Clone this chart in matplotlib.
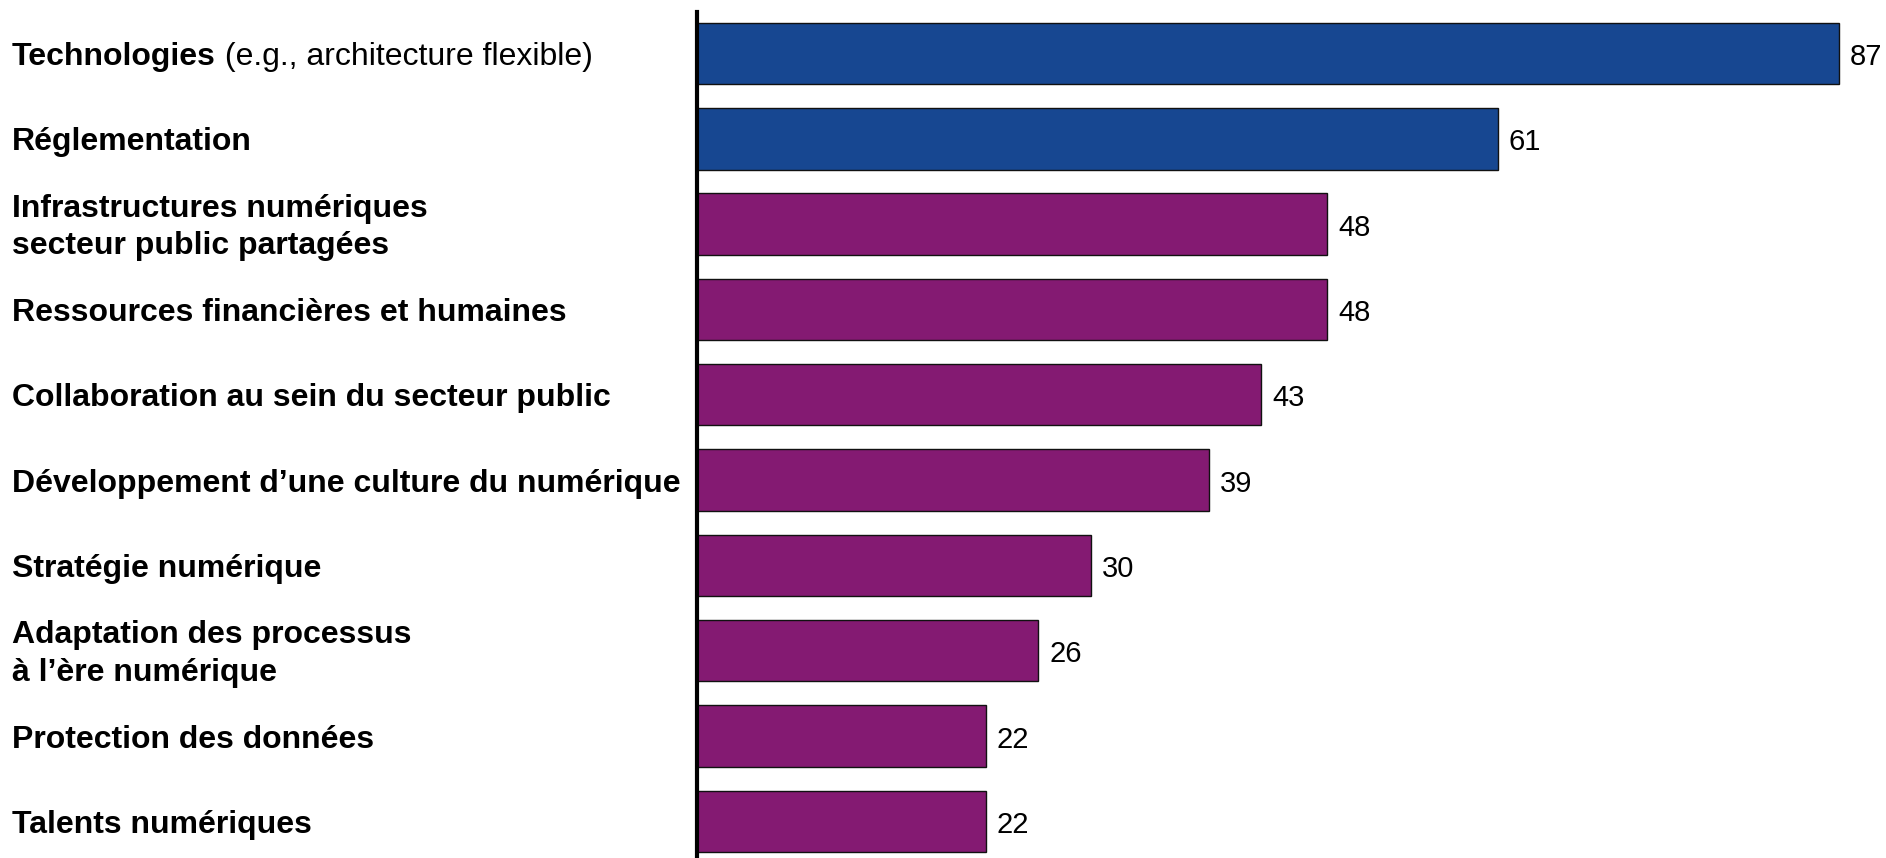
import matplotlib
matplotlib.use("Agg")
import matplotlib.pyplot as plt

# Survey results: share of respondents naming each factor
categories = [
    "Technologies",
    "Réglementation",
    "Infrastructures numériques\nsecteur public partagées",
    "Ressources financières et humaines",
    "Collaboration au sein du secteur public",
    "Développement d\u2019une culture du numérique",
    "Stratégie numérique",
    "Adaptation des processus\nà l\u2019ère numérique",
    "Protection des données",
    "Talents numériques",
]
first_label_suffix = " (e.g., architecture flexible)"
values = [87, 61, 48, 48, 43, 39, 30, 26, 22, 22]
groups = ["tech", "tech", "org", "org", "org", "org", "org", "org", "org", "org"]

group_colors = {"tech": "#174791", "org": "#841A72"}

plt.rcParams["font.family"] = ["Liberation Sans", "DejaVu Sans"]

W, H, DPI = 1886, 858, 100
LABEL_SIZE = 23
VALUE_SIZE = 21
TEXT_DROP_PX = 3.5  # text sits slightly below the bar centre line

fig = plt.figure(figsize=(W / DPI, H / DPI), dpi=DPI)
ax_left = 697 / W
ax = fig.add_axes([ax_left, 0.0, 1 - ax_left, (858 - 12) / H])

positions = list(range(len(values)))
ax.barh(positions, values, height=0.72,
        color=[group_colors[g] for g in groups],
        edgecolor="#111111", linewidth=1.0, zorder=2)

ax.set_xlim(0, 90.6)
ax.set_ylim(len(values) - 1 + 0.43, -0.487)

for s in ("top", "right", "bottom"):
    ax.spines[s].set_visible(False)
ax.spines["left"].set_linewidth(3)
ax.spines["left"].set_color("black")
ax.set_xticks([])
ax.set_yticks([])

# Value labels at the bar ends
drop_pt = TEXT_DROP_PX * 72 / DPI
for p, v in zip(positions, values):
    ax.annotate(str(v), xy=(v, p), xytext=(8, -drop_pt),
                textcoords="offset points",
                va="center", ha="left", fontsize=VALUE_SIZE, color="black")

# Category labels, left aligned near the figure edge
label_x = 12 / W
first_text = None
for p, lab in zip(positions, categories):
    y_disp = ax.transData.transform((0, p))[1] - TEXT_DROP_PX
    y_fig = y_disp / H
    t = fig.text(label_x, y_fig, lab, ha="left", va="center",
                 fontsize=LABEL_SIZE, fontweight="bold", color="black",
                 linespacing=1.33)
    if p == 0:
        first_text = t

# Regular-weight suffix placed right after the bold "Technologies"
fig.canvas.draw()
bb = first_text.get_window_extent(fig.canvas.get_renderer())
fig.text(bb.x1 / W, bb.y0 / H, first_label_suffix, fontsize=LABEL_SIZE,
         color="black", ha="left", va="bottom")

fig.savefig("out.png", dpi=DPI)
